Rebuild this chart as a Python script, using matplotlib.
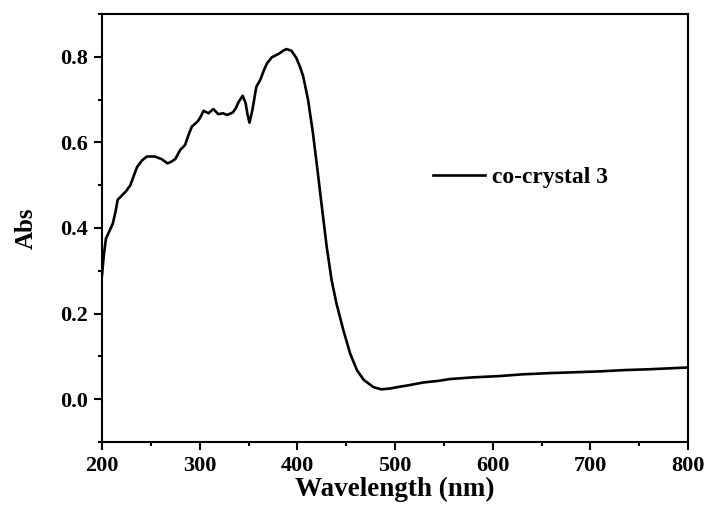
import matplotlib
matplotlib.use("Agg")
import matplotlib.pyplot as plt
from matplotlib.ticker import MultipleLocator
import numpy as np

plt.rcParams['font.family'] = ['Liberation Serif', 'DejaVu Serif']
plt.rcParams['font.weight'] = 'bold'

# absorption spectrum
wavelength = [200, 202, 204, 207, 211, 214, 216, 220, 225, 229, 233, 236, 241, 246,
              254, 261, 267, 271, 275, 280, 285, 289, 292, 298, 301, 304, 309, 314,
              319, 324, 328, 334, 337, 340, 344, 347, 349, 351, 354, 358, 362, 366,
              369, 374, 381, 386, 389, 394, 399, 403, 406, 411, 416, 421, 424, 430,
              435, 440, 447, 454, 461, 468, 478, 486, 495, 502, 515, 529, 545, 556,
              580, 607, 630, 659, 685, 710, 735, 761, 780, 800]
absorbance = [0.290, 0.340, 0.375, 0.390, 0.410, 0.440, 0.466, 0.475, 0.487, 0.500,
              0.525, 0.543, 0.558, 0.567, 0.567, 0.561, 0.551, 0.555, 0.561, 0.582,
              0.594, 0.620, 0.637, 0.649, 0.660, 0.674, 0.668, 0.678, 0.666, 0.668,
              0.664, 0.670, 0.680, 0.695, 0.709, 0.692, 0.665, 0.646, 0.676, 0.730,
              0.746, 0.770, 0.785, 0.799, 0.807, 0.815, 0.818, 0.814, 0.797, 0.775,
              0.754, 0.699, 0.621, 0.528, 0.470, 0.357, 0.279, 0.224, 0.162, 0.107,
              0.068, 0.045, 0.028, 0.023, 0.025, 0.028, 0.033, 0.039, 0.043, 0.047,
              0.051, 0.054, 0.058, 0.061, 0.063, 0.065, 0.068, 0.070, 0.072, 0.074]
series_label = "co-crystal 3"

fig = plt.figure(figsize=(7.09, 5.14), dpi=100)
ax = fig.add_axes([0.1439, 0.1401, 0.8265, 0.8327])

ax.plot(wavelength, absorbance, color="black", linewidth=1.9, label=series_label)

ax.set_xlim(200, 800)
ax.set_ylim(-0.1, 0.9)
ax.xaxis.set_major_locator(MultipleLocator(100))
ax.xaxis.set_minor_locator(MultipleLocator(50))
ax.yaxis.set_minor_locator(MultipleLocator(0.1))
ax.set_yticks(np.arange(0.0, 0.81, 0.2))
ax.yaxis.set_major_formatter(plt.FuncFormatter(lambda v, p: f"{v:.1f}"))

for s in ax.spines.values():
    s.set_linewidth(1.5)
ax.tick_params(which="major", direction="out", length=6, width=1.5, labelsize=16, pad=4)
ax.tick_params(which="minor", direction="out", length=3, width=1.5)
for lab in ax.get_xticklabels() + ax.get_yticklabels():
    lab.set_fontweight("bold")

ax.set_xlabel("Wavelength (nm)", fontsize=19.5, fontweight="bold", labelpad=1)
ax.set_ylabel("Abs", fontsize=18, fontweight="bold", labelpad=16)

ax.legend(loc="center left", bbox_to_anchor=(0.565, 0.619), frameon=False,
          prop={"size": 17, "weight": "bold"}, handlelength=2.2, handletextpad=0.3,
          borderpad=0, borderaxespad=0)

fig.savefig("out.png", dpi=100)
